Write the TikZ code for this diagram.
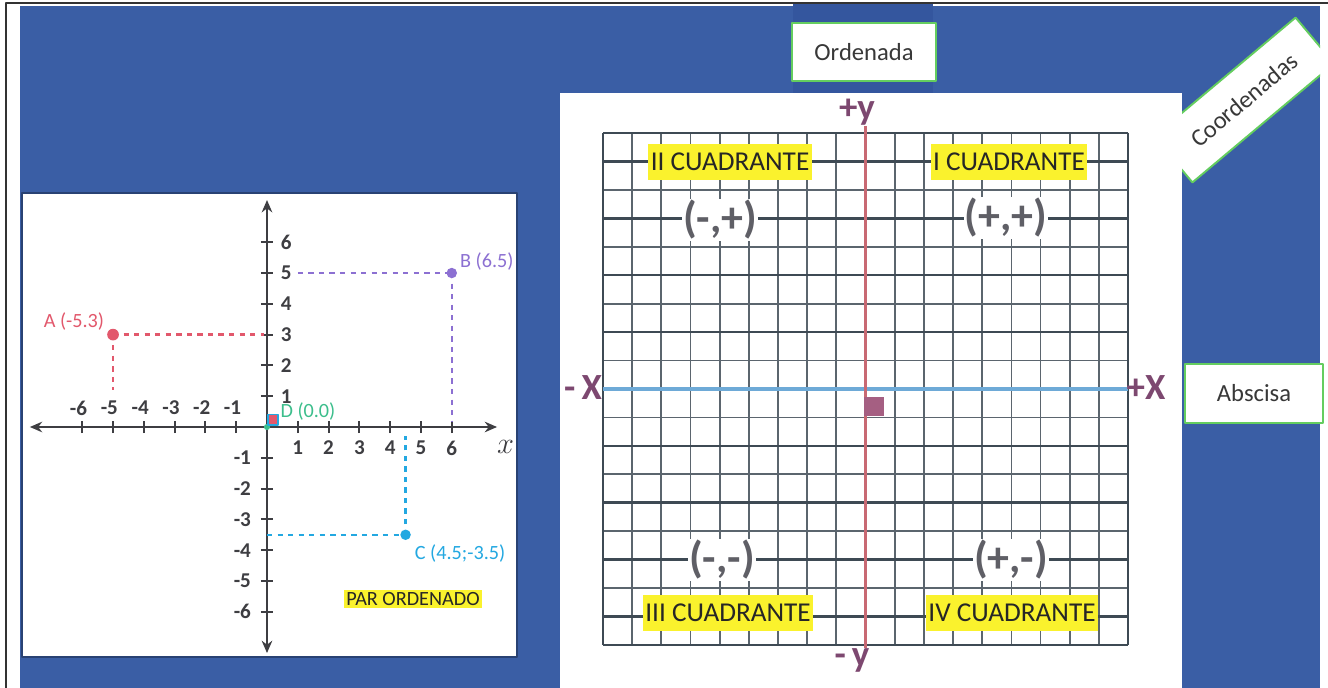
\documentclass[tikz,border=0pt]{standalone}
\usepackage{fontspec}
\setmainfont{Carlito}
\usetikzlibrary{arrows.meta}
\definecolor{panelblue}{RGB}{58,94,165}
\definecolor{panelshade}{RGB}{52,86,158}
\definecolor{boxgreen}{RGB}{100,205,95}
\definecolor{hlyellow}{RGB}{250,242,45}
\definecolor{gridgray}{RGB}{62,74,84}
\definecolor{yaxisred}{RGB}{200,105,115}
\definecolor{xaxisblue}{RGB}{110,170,215}
\definecolor{signgray}{RGB}{95,95,102}
\definecolor{plum}{RGB}{125,72,112}
\definecolor{axisdark}{RGB}{62,62,66}
\definecolor{ptred}{RGB}{226,88,108}
\definecolor{ptpurple}{RGB}{140,112,210}
\definecolor{ptcyan}{RGB}{35,168,225}
\definecolor{ptgreen}{RGB}{60,190,140}
\definecolor{marksq}{RGB}{165,95,130}
\begin{document}
\begin{tikzpicture}[x=0.02cm, y=-0.02cm, line join=round,
  label box/.style={draw=boxgreen, line width=1.1pt, fill=white, text=black!78,
    font=\fontsize{14}{16}\selectfont, inner sep=0pt},
  quad/.style={fill=hlyellow, inner sep=1.5pt, minimum height=20pt, text=black!85,
    font=\fontsize{15.5}{17}\selectfont},
  sign/.style={fill=white, inner sep=0.6pt, text=signgray, font=\bfseries\fontsize{25}{28}\selectfont},
  axname/.style={inner sep=0pt, text=plum, font=\bfseries\fontsize{21}{24}\selectfont},
  thin grid/.style={gridgray!85, line width=1pt},
  thick grid/.style={gridgray, line width=1.4pt},
  num/.style={inner sep=0.5pt, text=axisdark, font=\bfseries\fontsize{12}{14}\selectfont},
  ptlab/.style={inner sep=0.5pt, font=\fontsize{11.5}{13}\selectfont},
  guide/.style={line width=1.3pt, dash pattern=on 3pt off 3pt}]
  \useasboundingbox (0,0) rectangle (1328,688);
  % marco y fondo
  \fill[white] (0,0) rectangle (1328,688);
  \draw[black!80, line width=0.8pt] (6,688) -- (6,3) -- (1328,3);
  \fill[panelblue] (20,6) rectangle (1320,688);
  \fill[panelshade] (793,4) rectangle (933,93);
  % etiqueta girada, queda detras del panel blanco
  \begin{scope}
    \clip (20,6) rectangle (1320,688);
    \node[label box, rotate=40, minimum width=3.7cm, minimum height=1.2cm] (coord) at (1244,100) {Coordenadas};
  \end{scope}
  \node[label box, minimum width=2.88cm, minimum height=1.16cm] (ord) at (864,52) {Ordenada};
  \node[label box, minimum width=2.76cm, minimum height=1.18cm] (absc) at (1254,393.5) {Abscisa};
  % paneles blancos
  \draw[fill=white, draw=panelblue!70!black, line width=0.6pt] (22,193) rectangle (517,657);
  \fill[white] (560,93) rectangle (1182,688);
  % cuadricula 18 x 18
  \foreach \i in {0,...,18}
    \draw[thin grid] ({603+29.17*\i},133) -- ({603+29.17*\i},645);
  \foreach \j in {0,...,18}
    \draw[thin grid] (603,{133+28.44*\j}) -- (1128,{133+28.44*\j});
  \foreach \j in {0,1,3,5,7,11,13,15,17,18}
    \draw[thick grid] (603,{133+28.44*\j}) -- (1128,{133+28.44*\j});
  \draw[thick grid] (603,133) -- (603,645);
  \draw[thick grid] (1128,133) -- (1128,645);
  % ejes del plano
  \coordinate (ytop) at (865.5,126); \coordinate (ybot) at (865.5,648);
  \coordinate (xlft) at (603,389); \coordinate (xrgt) at (1128,389);
  \draw[xaxisblue, line width=1.8pt] (xlft) -- (xrgt);
  \draw[yaxisred, line width=2pt] (ytop) -- (ybot);
  \fill[marksq] (864,397) rectangle (884,416);
  \node[axname] (ypos) at (857,112) {+y};
  \node[axname] (yneg) at (852,660) {-\,y};
  \node[axname] (xneg) at (583,388) {-\,X};
  \node[axname] (xpos) at (1146,388) {+X};
  % cuadrantes y signos
  \node[quad] (q2) at (730,162) {II CUADRANTE};
  \node[quad] (q1) at (1009,162) {I CUADRANTE};
  \node[quad] (q3) at (728,613) {III CUADRANTE};
  \node[quad] (q4) at (1012,613) {IV CUADRANTE};
  \node[sign] (s2) at (720,220) {(-,+)};
  \node[sign] (s1) at (1006,218) {(+,+)};
  \node[sign] (s3) at (722,560) {(-,-)};
  \node[sign] (s4) at (1011,560) {(+,-)};
  % par ordenado: unidad = 30.8 px
  \begin{scope}[shift={(267,427)}, x=0.616cm, y=0.616cm]
    \coordinate (o) at (0,0);
    \draw[axisdark, line width=1.5pt, {Stealth[length=7pt,width=6pt]}-{Stealth[length=7pt,width=6pt]}] (-7.7,0) -- (7.47,0);
    \draw[axisdark, line width=1.5pt, {Stealth[length=7pt,width=6pt]}-{Stealth[length=7pt,width=6pt]}] (0,-7.34) -- (0,7.37);
    \foreach \k in {-6,...,-1,1,2,...,6} {
      \draw[axisdark, line width=1.2pt] (\k,-0.2) -- (\k,0.2);
      \draw[axisdark, line width=1.2pt] (-0.2,\k) -- (0.2,\k);
    }
    \foreach \k in {1,...,6} {
      \node[num] (xp\k) at (\k,-0.68) {\k};
      \node[num] (xn\k) at (-\k-0.12,0.62) {-\k};
      \node[num] (yp\k) at (0.62,\k) {\k};
      \node[num] (yn\k) at (-0.8,-\k) {-\k};
    }
    \coordinate (A) at (-5,3); \coordinate (B) at (6,5); \coordinate (C) at (4.5,-3.5);
    \coordinate (Ay) at (-0.1,3); \coordinate (Ax) at (-5,1.2);
    \coordinate (By) at (1.0,5); \coordinate (Bx) at (6,0.2);
    \coordinate (Cy) at (0,-3.5); \coordinate (Cx) at (4.5,-0.3);
    \draw[guide, ptred] (A) -- (Ay); \draw[guide, ptred] (A) -- (Ax);
    \draw[guide, ptpurple] (By) -- (B); \draw[guide, ptpurple] (B) -- (Bx);
    \draw[guide, ptcyan] (Cy) -- (C); \draw[guide, ptcyan] (C) -- (Cx);
    \fill[ptred] (A) circle (0.19);
    \fill[ptpurple] (B) circle (0.17);
    \fill[ptcyan] (C) circle (0.17);
    \fill[ptgreen] (o) circle (0.1);
    \draw[fill=ptred, draw=ptcyan, line width=0.8pt] (0.03,0.07) rectangle (0.36,0.4);
    \node[ptlab, text=ptred] (Alab) at (-6.27,3.44) {A (-5.3)};
    \node[ptlab, text=ptpurple] (Blab) at (7.14,5.39) {B (6.5)};
    \node[ptlab, text=ptcyan] (Clab) at (6.27,-4.12) {C (4.5;-3.5)};
    \node[ptlab, text=ptgreen] (Dlab) at (1.33,0.49) {D (0.0)};
    \node[inner sep=0pt, text=axisdark, font=\fontsize{18}{20}\selectfont] (xname) at (7.75,-0.65) {$x$};
    \node[fill=hlyellow, inner sep=1.5pt, text=black!85, font=\fontsize{11.5}{13}\selectfont] (par) at (4.74,-5.58) {PAR ORDENADO};
  \end{scope}
\end{tikzpicture}
\end{document}
